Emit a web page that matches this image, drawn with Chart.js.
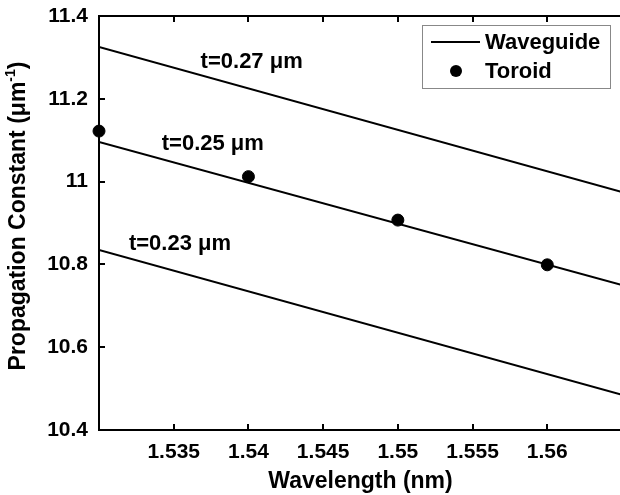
<!DOCTYPE html>
<html>
<head>
<meta charset="utf-8">
<script src="https://cdn.jsdelivr.net/npm/chart.js@4.4.0/dist/chart.umd.min.js"></script>
<style>
  html, body { margin: 0; padding: 0; overflow: hidden; background: #fff; }
  canvas { display: block; }
</style>
</head>
<body>
<canvas id="myChart" width="622" height="495"></canvas>
<script>
// wavelength (x) values and waveguide lines
const lineX = [1.53, 1.565]
const wave027 = [11.325, 10.975]
const wave025 = [11.096, 10.75]
const wave023 = [10.835, 10.485]

// toroid measurements
const toroidX = [1.53, 1.54, 1.55, 1.56]
const toroidY = [11.122, 11.012, 10.907, 10.799]

// tick labels
const xTicks = [1.535, 1.54, 1.545, 1.55, 1.555, 1.56]
const yTicks = [10.4, 10.6, 10.8, 11, 11.2, 11.4]

// thickness labels, anchored in data coordinates
const labelText = ['t=0.27 μm', 't=0.25 μm', 't=0.23 μm']
const labelX = [1.5368, 1.5342, 1.5320]
const labelY = [11.274, 11.076, 10.835]

const FONT = '"Liberation Sans", Arial, sans-serif'

const toPoints = (xs, ys) => xs.map((x, i) => ({ x: x, y: ys[i] }))

const lineStyle = {
  borderColor: '#000',
  borderWidth: 2,
  showLine: true,
  pointRadius: 0,
  fill: false
}

// box, inner ticks, labels and legend
const decorPlugin = {
  id: 'decor',
  afterDraw (chart) {
    const ctx = chart.ctx
    const area = chart.chartArea
    const xs = chart.scales.x
    const ys = chart.scales.y
    ctx.save()
    ctx.strokeStyle = '#000'
    ctx.lineWidth = 2
    ctx.strokeRect(area.left, area.top, area.right - area.left, area.bottom - area.top)

    // ticks pointing inward
    const tl = 6
    ctx.beginPath()
    xTicks.forEach(v => {
      const px = Math.round(xs.getPixelForValue(v))
      ctx.moveTo(px, area.bottom)
      ctx.lineTo(px, area.bottom - tl)
      ctx.moveTo(px, area.top)
      ctx.lineTo(px, area.top + tl)
    })
    yTicks.forEach(v => {
      const py = Math.round(ys.getPixelForValue(v))
      ctx.moveTo(area.left, py)
      ctx.lineTo(area.left + tl, py)
    })
    ctx.stroke()

    // thickness labels
    ctx.fillStyle = '#000'
    ctx.font = 'bold 22px ' + FONT
    ctx.textAlign = 'left'
    ctx.textBaseline = 'alphabetic'
    labelText.forEach((t, i) => {
      ctx.fillText(t, xs.getPixelForValue(labelX[i]), ys.getPixelForValue(labelY[i]))
    })

    // y axis title with superscript
    ctx.translate(19, 216)
    ctx.rotate(-Math.PI / 2)
    ctx.textBaseline = 'middle'
    const mainFont = 'bold 23px ' + FONT
    const supFont = 'bold 14px ' + FONT
    const partA = 'Propagation Constant (μm'
    const partB = '-1'
    const partC = ')'
    ctx.font = mainFont
    const wA = ctx.measureText(partA).width
    const wC = ctx.measureText(partC).width
    ctx.font = supFont
    const wB = ctx.measureText(partB).width
    let x0 = -(wA + wB + wC) / 2
    ctx.font = mainFont
    ctx.fillText(partA, x0, 0)
    x0 += wA
    ctx.font = supFont
    ctx.fillText(partB, x0, -8)
    x0 += wB
    ctx.font = mainFont
    ctx.fillText(partC, x0, 0)
    ctx.restore()

    // legend box
    ctx.save()
    ctx.strokeStyle = '#888'
    ctx.lineWidth = 1
    ctx.strokeRect(422.5, 25.5, 188, 63)
    ctx.strokeStyle = '#000'
    ctx.lineWidth = 2
    ctx.beginPath()
    ctx.moveTo(431, 42)
    ctx.lineTo(480, 42)
    ctx.stroke()
    ctx.fillStyle = '#000'
    ctx.beginPath()
    ctx.arc(456, 71, 6, 0, Math.PI * 2)
    ctx.fill()
    ctx.font = 'bold 22px ' + FONT
    ctx.textBaseline = 'middle'
    ctx.fillText(chart.data.datasets[0].label, 485, 43)
    ctx.fillText(chart.data.datasets[3].label, 485, 72)
    ctx.restore()
  }
}

const ctx = document.getElementById('myChart').getContext('2d')
const myChart = new Chart(ctx, {
  type: 'scatter',
  data: {
    datasets: [
      { ...lineStyle, label: 'Waveguide', data: toPoints(lineX, wave027) },
      { ...lineStyle, label: 'Waveguide 0.25', data: toPoints(lineX, wave025) },
      { ...lineStyle, label: 'Waveguide 0.23', data: toPoints(lineX, wave023) },
      {
        label: 'Toroid',
        data: toPoints(toroidX, toroidY),
        backgroundColor: '#000',
        borderColor: '#000',
        pointRadius: 6,
        showLine: false,
        clip: false // keep the dot at 1.53 whole over the axis
      }
    ]
  },
  options: {
    responsive: false,
    animation: false,
    layout: { autoPadding: false, padding: { top: 16, right: 0, left: 0, bottom: 0 } },
    plugins: {
      legend: { display: false },
      tooltip: { enabled: false }
    },
    scales: {
      x: {
        type: 'linear',
        min: 1.53,
        max: 1.565,
        grid: { display: false, drawTicks: false },
        border: { display: false },
        afterBuildTicks: scale => { scale.ticks = xTicks.map(v => ({ value: v })) },
        afterFit: scale => {
          scale.height = 65
          scale.paddingLeft = 0
          scale.paddingRight = 0
        },
        ticks: {
          color: '#000',
          padding: 10,
          maxRotation: 0,
          font: { family: FONT, size: 21, weight: 'bold' },
          callback: v => String(+v.toFixed(3))
        },
        title: {
          display: true,
          text: 'Wavelength (nm)',
          color: '#000',
          padding: { top: 0, bottom: 0 },
          font: { family: FONT, size: 23, weight: 'bold' }
        }
      },
      y: {
        type: 'linear',
        min: 10.4,
        max: 11.4,
        grid: { display: false, drawTicks: false },
        border: { display: false },
        afterBuildTicks: scale => { scale.ticks = yTicks.map(v => ({ value: v })) },
        afterFit: scale => {
          scale.width = 99
          scale.paddingTop = 0
          scale.paddingBottom = 0
        },
        ticks: {
          color: '#000',
          padding: 11,
          font: { family: FONT, size: 21, weight: 'bold' },
          callback: v => String(+v.toFixed(2))
        }
      }
    }
  },
  plugins: [decorPlugin]
})
</script>
</body>
</html>
